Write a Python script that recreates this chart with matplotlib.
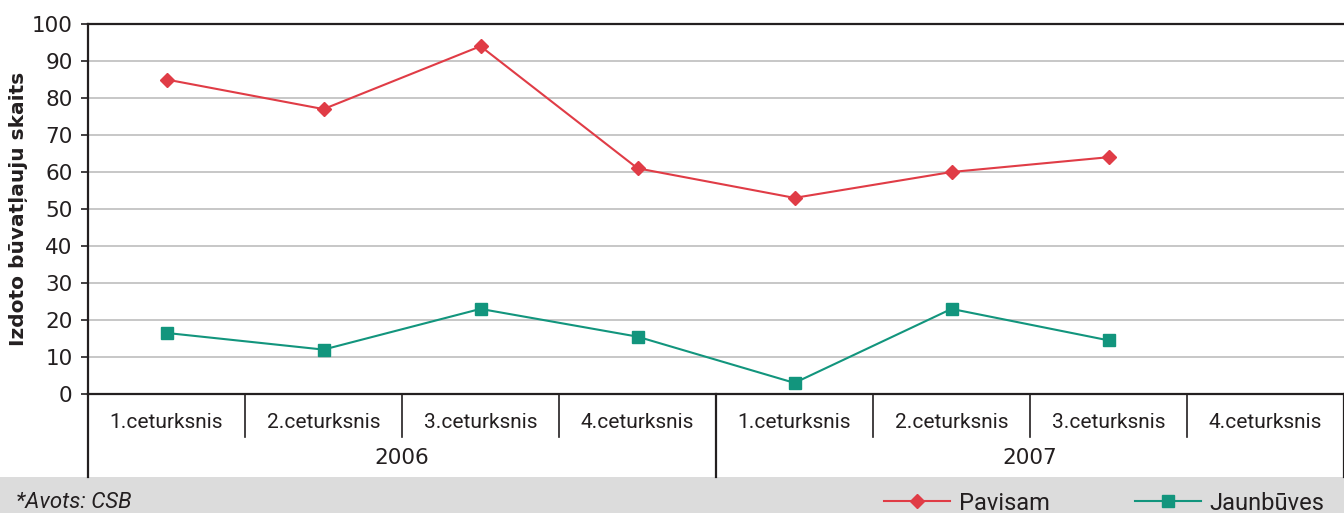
import matplotlib
matplotlib.use("Agg")
import matplotlib.pyplot as plt
from matplotlib.patches import Rectangle
from matplotlib.lines import Line2D

quarters = ["1.ceturksnis", "2.ceturksnis", "3.ceturksnis", "4.ceturksnis",
            "1.ceturksnis", "2.ceturksnis", "3.ceturksnis", "4.ceturksnis"]
years = ["2006", "2007"]
pavisam = [85, 77, 94, 61, 53, 60, 64]
jaunbuves = [16.5, 12, 23, 15.5, 3, 23, 14.5]
yticks = [0, 10, 20, 30, 40, 50, 60, 70, 80, 90, 100]

RED = "#e03c46"
TEAL = "#12957d"
DARK = "#231f20"

plt.rcParams['font.family'] = ['Roboto', 'DejaVu Sans']
DV = ['DejaVu Sans']

W, H = 1344, 513
fig = plt.figure(figsize=(W / 100, H / 100), dpi=100)
fig.add_artist(Rectangle((0, 0), 1, 36 / H, transform=fig.transFigure,
                         facecolor="#dcdcdc", edgecolor="none", zorder=0))

ax = fig.add_axes([88 / W, (H - 394) / H, 1 - 88 / W, 370 / H])
ax.set_xlim(-0.5, 7.5)
ax.set_ylim(0, 100)
ax.set_yticks(yticks)
ax.set_yticklabels([str(v) for v in yticks], fontfamily=DV, fontsize=15.5,
                   color=DARK)
ax.tick_params(axis='y', length=5, width=1.2, color=DARK, pad=6)
ax.set_xticks([])
ax.grid(axis='y', color="#bdbdbd", linewidth=1.2)
ax.set_axisbelow(True)
for s in ["left", "bottom", "top"]:
    ax.spines[s].set_color(DARK)
    ax.spines[s].set_linewidth(1.6)
ax.spines["right"].set_visible(False)

x = list(range(len(pavisam)))
l1, = ax.plot(x, pavisam, color=RED, lw=1.5, marker="D", markersize=7.5,
              label="Pavisam", zorder=3)
x2 = list(range(len(jaunbuves)))
l2, = ax.plot(x2, jaunbuves, color=TEAL, lw=1.5, marker="s", markersize=8.5,
              label="Jaunbūves", zorder=3)

ax.set_ylabel("Izdoto būvatļauju skaits", fontsize=14.5, fontweight="bold",
              color=DARK, fontfamily=DV, labelpad=3)

tr = ax.get_xaxis_transform()
y_lab = (394 - 423) / 370
y_sep = (394 - 437) / 370
y_year = (394 - 458) / 370
y_yr_sep = (394 - 477) / 370
for i, q in enumerate(quarters):
    ax.text(i, y_lab, q, transform=tr, ha="center", va="center",
            fontsize=15, color=DARK)
for b in range(len(quarters) + 1):
    bx = b - 0.5
    is_year = b % 4 == 0
    ax.add_line(Line2D([bx, bx], [0, y_yr_sep if is_year else y_sep],
                       transform=tr, color=DARK, lw=1.2 if not is_year else 1.6,
                       clip_on=False))
for j, yr in enumerate(years):
    ax.text(j * 4 + 1.5, y_year, yr, transform=tr, ha="center", va="center",
            fontsize=15.5, color=DARK, fontfamily=DV)

fig.text(16 / W, 10 / H, "*Avots: CSB", fontsize=16, style="italic",
         color=DARK, ha="left", va="center")

fig.legend(handles=[l1, l2], loc="center left",
           bbox_to_anchor=(863 / W, 10 / H), ncol=2, frameon=False,
           fontsize=17, handlelength=2.8, columnspacing=3.6,
           handletextpad=0.35, labelcolor=DARK)

fig.savefig("out.png", dpi=100)
